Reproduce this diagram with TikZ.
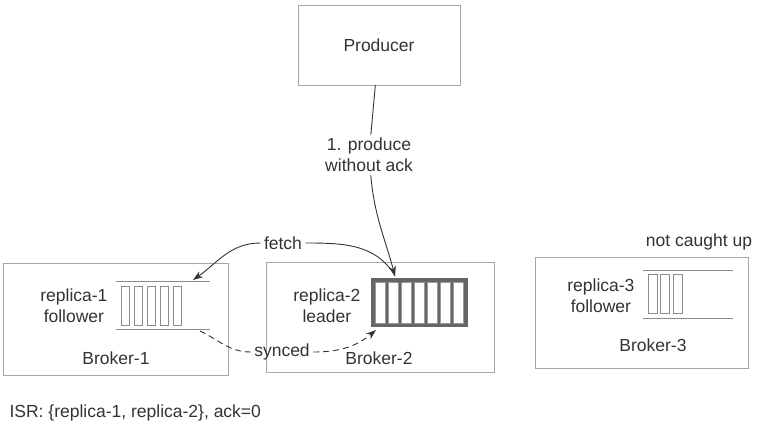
\documentclass[tikz,border=0pt]{standalone}
\usepackage{fontspec}
\setmainfont{Liberation Sans}
\usetikzlibrary{positioning,arrows.meta}

\begin{document}
\begin{tikzpicture}[x=1pt,y=-1pt]
        \tikzstyle{every node}=[font=\fontsize{17.5}{21}\selectfont, text=black!80, align=center]
        \tikzstyle{box}=[draw=black!35, thin]
        \tikzstyle{wire}=[draw=black!80, line width=0.9pt]
        \tikzstyle{tip}=[-{Stealth[length=10pt,width=7pt]}]
        \tikzstyle{cell}=[draw=black!45, line width=0.6pt]
        \tikzstyle{dashy}=[dash pattern=on 6pt off 4pt]

        \useasboundingbox (0,0) rectangle (762,426);

        % boxes
        \node[box, minimum width=162pt, minimum height=80pt]  (producer) at (379,45)    {Producer};
        \node[box, minimum width=225pt, minimum height=112pt] (broker1)  at (115.5,319) {};
        \node[box, minimum width=228pt, minimum height=110pt] (broker2)  at (380,317)   {};
        \node[box, minimum width=213pt, minimum height=111pt] (broker3)  at (641.5,312.5) {};

        \node (name1) at (116,358) {Broker-1};
        \node (name2) at (379,358) {Broker-2};
        \node (name3) at (653,345) {Broker-3};

        % replica-1
        \node[anchor=east] (rep1) at (111,306) {replica-1\\follower};
        \node[minimum width=94pt, minimum height=48pt, inner sep=0] (log1) at (163,305) {};
        \draw[cell] (log1.north west) -- (log1.north east);
        \draw[cell] (log1.south west) -- (log1.south east);
        \foreach \i in {0,...,4}
            \draw[cell] (121+13*\i,286) rectangle ++(8,39);

        % replica-2
        \node[anchor=east] (rep2) at (364,306) {replica-2\\leader};
        \node[fill=black!60, minimum width=97pt, minimum height=49pt, inner sep=0] (log2) at (419.5,302.5) {};
        \foreach \i in {0,...,6}
            \draw[cell, draw=black!40, fill=white] (375+13*\i,282) rectangle ++(10,41);

        % replica-3
        \node[anchor=east] (rep3) at (638,296) {replica-3\\follower};
        \node[minimum width=90pt, minimum height=48pt, inner sep=0] (log3) at (688,294) {};
        \draw[cell] (log3.north west) -- (log3.north east);
        \draw[cell] (log3.south west) -- (log3.south east);
        \foreach \i in {0,...,2}
            \draw[cell] (648+12.5*\i,274) rectangle ++(9,39);
        \node (late) at (699,242) {not caught up};

        % connectors
        \coordinate (prodin)  at (395,276);
        \coordinate (fetchin) at (193,280);
        \coordinate (syncout) at (200,331);
        \coordinate (syncin)  at (376,330);

        \node (produce) at (369,155) {1. produce\\without ack};
        \draw[wire] (producer) -- (produce);
        \draw[wire, tip] (produce) to[out=-85, in=105] (prodin);

        \node (fetch) at (283,243) {fetch};
        \draw[wire] (fetch) to[out=0, in=120] (prodin);
        \draw[wire, tip] (fetch) to[out=180, in=35] (fetchin);

        \node (synced) at (282,352) {synced};
        \draw[wire, dashy] (syncout) to[out=-25, in=180] (synced);
        \draw[wire, dashy, tip] (synced) to[out=0, in=-140] (syncin);

        \node[anchor=west] (isr) at (6,413) {ISR: \{replica-1, replica-2\}, ack=0};

    \end{tikzpicture}
\end{document}
